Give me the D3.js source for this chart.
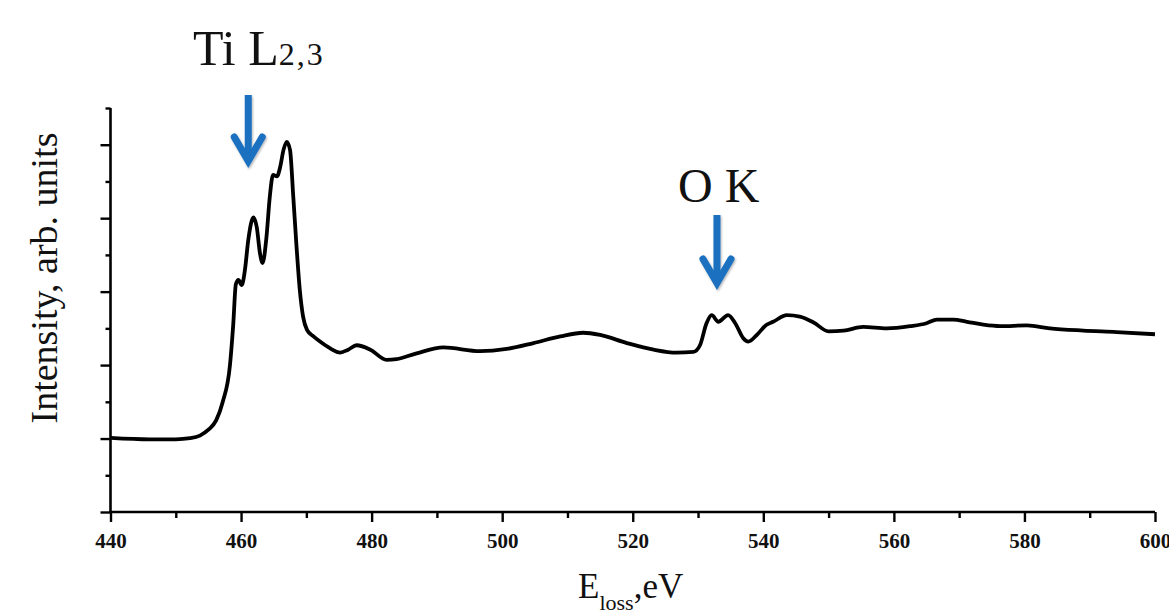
<!DOCTYPE html>
<html>
<head>
<meta charset="utf-8">
<script src="https://cdn.jsdelivr.net/npm/d3@7"></script>
<style>
  html, body { margin: 0; padding: 0; background: #fff; }
  svg { display: block; }
</style>
</head>
<body>
<svg id="chart" width="1169" height="612"></svg>
<script>
// ---- data ----
const energy = [440, 446, 450, 452.2, 453.7, 455.0, 456.2, 457.2, 458.3, 458.8, 459.2, 459.6,
  460.1, 460.6, 461.1, 461.9, 462.4, 462.9, 463.3, 463.9, 464.4, 464.9,
  465.5, 466.0, 466.5, 467.0, 467.5, 468.0, 468.5, 469.0, 469.5, 470.1,
  471.1, 472.1, 473.6, 475.2, 476.4, 477.7, 479.8, 482.3, 483.8, 486.9,
  491.0, 496.6, 500.7, 504.8, 508.9, 512.4, 515.0, 519.1, 523.2, 526.7,
  529.3, 530.3, 531.3, 532.1, 533.1, 534.6, 535.7, 536.9, 537.7, 539.0,
  540.5, 541.5, 543.6, 545.6, 547.7, 550.0, 552.3, 555.3, 558.9, 562.5,
  565.0, 566.6, 569.1, 571.2, 573.7, 576.3, 580.4, 583.9, 589.0, 594.1, 600];
const intensity = [1.01, 0.99, 0.99, 1.005, 1.04, 1.12, 1.25, 1.50, 2.00, 2.55, 3.10, 3.16,
  3.09, 3.30, 3.70, 4.01, 3.88, 3.52, 3.39, 3.75, 4.29, 4.59,
  4.57, 4.70, 4.93, 5.04, 4.93, 4.29, 3.61, 3.02, 2.66, 2.48,
  2.39, 2.32, 2.23, 2.17, 2.21, 2.27, 2.21, 2.07, 2.08, 2.16,
  2.24, 2.19, 2.22, 2.30, 2.39, 2.44, 2.41, 2.30, 2.21, 2.17,
  2.18, 2.27, 2.57, 2.68, 2.59, 2.68, 2.57, 2.37, 2.32, 2.41,
  2.55, 2.59, 2.68, 2.66, 2.58, 2.46, 2.47, 2.52, 2.50, 2.53,
  2.57, 2.62, 2.62, 2.59, 2.55, 2.53, 2.54, 2.50, 2.47, 2.45, 2.42];
const xMajorTicks = [440, 460, 480, 500, 520, 540, 560, 580, 600];
const xMinorTicks = [450, 470, 490, 510, 530, 550, 570, 590];
const yMajorTicks = [0, 1, 2, 3, 4, 5];
const yMinorTicks = [0.5, 1.5, 2.5, 3.5, 4.5, 5.5];
const edgeLabels = ["Ti L", "O K"];
const edgeSubs = ["2,3", ""];
const edgeEnergies = [461.1, 532.9];

// ---- layout ----
const svg = d3.select("#chart");
const x = d3.scaleLinear().domain([440, 600]).range([110.5, 1155]);
const y = d3.scaleLinear().domain([0, 5.5]).range([512, 108]);
const blue = "#1a6fc0";

const defs = svg.append("defs");
const f = defs.append("filter").attr("id", "sh").attr("x", "-50%").attr("y", "-50%").attr("width", "200%").attr("height", "200%");
f.append("feDropShadow").attr("dx", 1).attr("dy", 1.5).attr("stdDeviation", 1.2)
  .attr("flood-color", "#000").attr("flood-opacity", 0.3);

// axes
function styleAxis(g) {
  g.selectAll("path.domain").attr("stroke", "#000").attr("stroke-width", 2.6);
  g.selectAll(".tick line").attr("stroke", "#000").attr("stroke-width", 2.4);
}
const gxMinor = svg.append("g").attr("transform", "translate(0,512)")
  .call(d3.axisBottom(x).tickValues(xMinorTicks).tickSize(6).tickSizeOuter(0).tickFormat(""));
const gx = svg.append("g").attr("transform", "translate(0,512)")
  .call(d3.axisBottom(x).tickValues(xMajorTicks).tickSize(10).tickSizeOuter(0).tickPadding(6));
styleAxis(gxMinor); styleAxis(gx);
gx.selectAll(".tick text")
  .attr("font-family", "'Liberation Serif', 'Times New Roman', serif")
  .attr("font-weight", "bold").attr("font-size", 21).attr("fill", "#111")
  .attr("dy", "0.95em");

const gyMinor = svg.append("g").attr("transform", "translate(110.5,0)")
  .call(d3.axisLeft(y).tickValues(yMinorTicks).tickSize(5).tickSizeOuter(0).tickFormat(""));
const gy = svg.append("g").attr("transform", "translate(110.5,0)")
  .call(d3.axisLeft(y).tickValues(yMajorTicks).tickSize(10).tickSizeOuter(0).tickFormat(""));
styleAxis(gyMinor); styleAxis(gy);
gx.select("path.domain").attr("d", `M${x(440) - 1},0H${x(600)}`);
gy.select("path.domain").attr("d", `M0,${y(0)}V${y(5.5)}`);
gyMinor.select("path.domain").remove();
gxMinor.select("path.domain").remove();

// spectrum line
const pts = energy.map((e, i) => [e, intensity[i]]);
svg.append("path")
  .datum(pts)
  .attr("fill", "none")
  .attr("stroke", "#000")
  .attr("stroke-width", 3.8)
  .attr("stroke-linejoin", "round")
  .attr("d", d3.line().x(d => x(d[0])).y(d => y(d[1])).curve(d3.curveMonotoneX));

// axis titles
const serif = "'Liberation Serif', 'Times New Roman', serif";
svg.append("text")
  .attr("transform", "translate(57,278) rotate(-90)")
  .attr("text-anchor", "middle")
  .attr("font-family", serif).attr("font-size", 38).attr("fill", "#111")
  .text("Intensity, arb. units");

const xt = svg.append("text").attr("x", 578).attr("y", 598)
  .attr("font-family", serif).attr("font-size", 35).attr("fill", "#111");
xt.append("tspan").text("E");
xt.append("tspan").attr("font-size", 22).attr("dy", 12).text("loss");
xt.append("tspan").attr("dy", -12).text(",eV");

// edge annotations
const labelPos = [[193, 65, 50], [678, 202, 48]];
const arrowTop = [95, 215];
const arrowTip = [168, 290];
edgeLabels.forEach((lab, i) => {
  const t = svg.append("text").attr("x", labelPos[i][0]).attr("y", labelPos[i][1])
    .attr("font-family", serif).attr("font-size", labelPos[i][2]).attr("fill", "#111");
  t.append("tspan").text(lab);
  if (edgeSubs[i]) t.append("tspan").attr("font-size", 32).attr("letter-spacing", 2).text(edgeSubs[i]);

  const ax = x(edgeEnergies[i]);
  const top = arrowTop[i], tip = arrowTip[i];
  const g = svg.append("g").attr("filter", "url(#sh)");
  g.append("line").attr("x1", ax).attr("x2", ax).attr("y1", top).attr("y2", tip - 8)
    .attr("stroke", blue).attr("stroke-width", 7);
  g.append("path")
    .attr("d", `M${ax - 14},${tip - 31}L${ax},${tip - 7}L${ax + 14},${tip - 31}`)
    .attr("fill", "none").attr("stroke", blue).attr("stroke-width", 7)
    .attr("stroke-linecap", "round").attr("stroke-linejoin", "miter");
});
</script>
</body>
</html>
